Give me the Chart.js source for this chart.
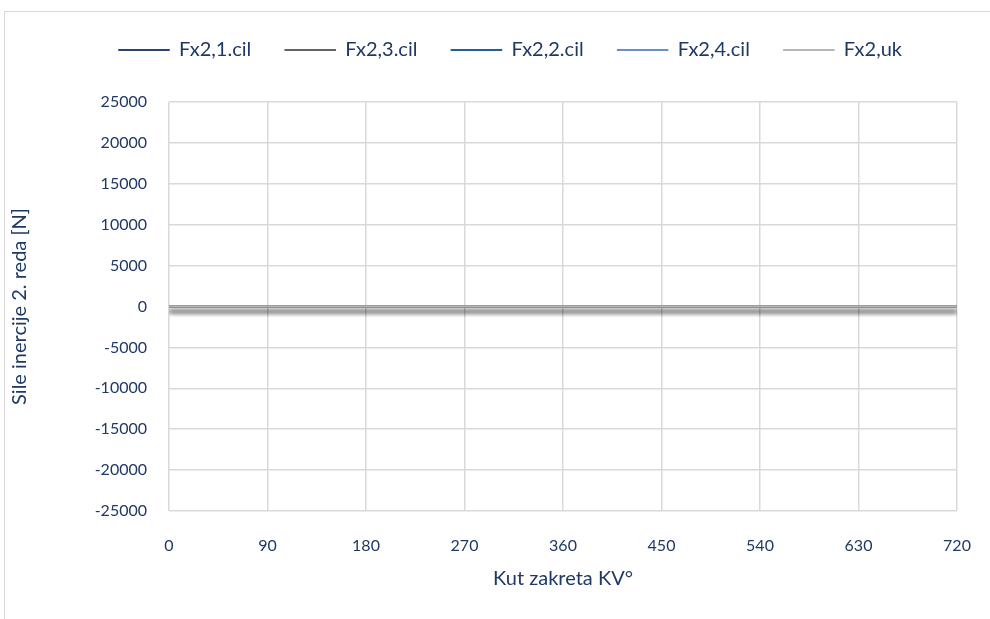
<!DOCTYPE html>
<html>
<head>
<meta charset="utf-8">
<script src="https://cdn.jsdelivr.net/npm/chart.js@4"></script>
<style>
  body{margin:0;background:#fff;overflow:hidden}
  #frame{position:absolute;left:4px;top:11px;width:1100px;height:700px;border:1px solid #d9d9d9}
  #wrap{position:absolute;left:0;top:0;width:990px;height:619px}
</style>
</head>
<body>
<div id="frame"></div>
<div id="wrap"><canvas id="myChart"></canvas></div>
<script>
// kut zakreta KV (deg)
const angles = [0, 90, 180, 270, 360, 450, 540, 630, 720]
// sile inercije 2. reda [N] - na slici sve leze na nuli
const fx2_1cil = [0, 0, 0, 0, 0, 0, 0, 0, 0]
const fx2_3cil = [0, 0, 0, 0, 0, 0, 0, 0, 0]
const fx2_2cil = [0, 0, 0, 0, 0, 0, 0, 0, 0]
const fx2_4cil = [0, 0, 0, 0, 0, 0, 0, 0, 0]
const fx2_uk   = [0, 0, 0, 0, 0, 0, 0, 0, 0]
const names = ['Fx2,1.cil', 'Fx2,3.cil', 'Fx2,2.cil', 'Fx2,4.cil', 'Fx2,uk']
const colors = ['#264478', '#636363', '#255e91', '#698ed0', '#b7b7b7']

const txt = '#1f3864'
const font = {family: 'Lato', size: 16}
const bigFont = {family: 'Lato', size: 20}

function pts(arr){
    let out = []
    for (let i in arr){
        out.push({x: angles[i], y: arr[i]})
    }
    return out
}

const series = [fx2_1cil, fx2_3cil, fx2_2cil, fx2_4cil, fx2_uk]
let datasets = []
for (let i in series){
    datasets.push({
        label: names[i],
        data: pts(series[i]),
        borderColor: colors[i],
        backgroundColor: colors[i],
        borderWidth: 1.5,
        pointRadius: 0,
        tension: 0,
        order: series.length - i   // zadnja serija na vrhu, kao u Excelu
    })
}

// sjena ispod linija kao u Excelu
const shadow = {
    id: 'shadow',
    beforeDatasetsDraw(chart){
        const c = chart.ctx
        c.save()
        c.shadowColor = 'rgba(0,0,0,0.4)'
        c.shadowBlur = 5
        c.shadowOffsetY = 5
    },
    afterDatasetsDraw(chart){
        chart.ctx.restore()
    }
}

// legenda malo desno i gore
const moveLegend = {
    id: 'moveLegend',
    afterLayout(chart){
        const l = chart.legend
        l.left += 28; l.right += 28
        l.top -= 32; l.bottom -= 32
    }
}

var ctx = document.getElementById('myChart').getContext('2d')
var myChart = new Chart(ctx, {
    type: 'line',
    data: {datasets: datasets},
    plugins: [shadow, moveLegend],
    options: {
        responsive: true,
        maintainAspectRatio: false,
        animation: false,
        layout: {padding: {left: 8, right: 33, top: 38, bottom: 0}},
        plugins: {
            legend: {
                position: 'top',
                labels: {
                    color: txt,
                    font: bigFont,
                    boxWidth: 50,
                    boxHeight: 0.5,
                    padding: 34,
                    sort: (a, b) => a.datasetIndex - b.datasetIndex
                }
            },
            tooltip: {enabled: false}
        },
        scales: {
            x: {
                type: 'linear',
                min: 0,
                max: 720,
                ticks: {stepSize: 90, color: txt, font: font, padding: 25},
                grid: {color: '#d9d9d9', lineWidth: 1.5, drawTicks: false},
                border: {display: false},
                title: {display: true, text: 'Kut zakreta KV°', color: txt, font: bigFont, padding: {top: 0, bottom: 28}},
                afterFit(scale){
                    scale.height = 108
                    scale.paddingLeft = 0
                    scale.paddingRight = 0
                }
            },
            y: {
                min: -25000,
                max: 25000,
                ticks: {
                    stepSize: 5000, color: txt, font: font, padding: 22,
                    callback: function(v){ return String(v) }
                },
                grid: {color: '#d9d9d9', lineWidth: 1.5, drawTicks: false},
                border: {display: false},
                title: {display: true, text: 'Sile inercije 2. reda [N]', color: txt, font: bigFont, padding: 0},
                afterFit(scale){ scale.width = 161 }
            }
        }
    }
})
</script>
</body>
</html>
